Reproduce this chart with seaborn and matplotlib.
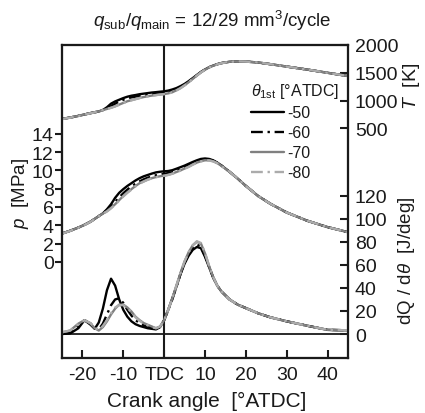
import numpy as np
import pandas as pd
import seaborn as sns
import matplotlib
matplotlib.use('Agg')
import matplotlib.pyplot as plt

sns.set_theme(style="ticks", rc={'text.color': 'k', 'axes.labelcolor': 'k',
                                 'xtick.color': 'k', 'ytick.color': 'k',
                                 'axes.edgecolor': 'k'})
plt.rcParams['font.family'] = ['Liberation Sans', 'DejaVu Sans']
plt.rcParams['mathtext.fontset'] = 'custom'
plt.rcParams['mathtext.rm'] = 'Liberation Sans'
plt.rcParams['mathtext.it'] = 'Liberation Sans:italic'
plt.rcParams['axes.unicode_minus'] = False

# === data ===
# crank angle [deg ATDC]; head part differs per case, tail part is shared
crank_head = [-25, -23, -21, -19.5, -18, -17, -16, -15, -14, -13, -12, -11, -10,
              -9, -8, -7, -6, -5, -4, -3, -2, -1, 0, 1, 2, 3, 4, 5, 6, 7, 8, 9,
              10, 11, 12, 13, 14]
crank_tail = [16, 18, 20, 23, 26, 30, 35, 40, 45]
cases = ['-50', '-60', '-70', '-80']

# gas temperature [K]
T_50 = [670, 695, 725, 750, 775, 790, 805, 830, 880, 945, 985, 1015, 1045, 1070, 1088,
        1100, 1115, 1125, 1135, 1145, 1152, 1160, 1167, 1180, 1200, 1225, 1260, 1300,
        1350, 1405, 1460, 1515, 1560, 1600, 1630, 1655, 1675]
T_60 = [670, 695, 725, 750, 775, 790, 805, 830, 860, 900, 945, 985, 1015, 1040, 1058,
        1072, 1085, 1097, 1108, 1118, 1126, 1133, 1140, 1155, 1175, 1205, 1243, 1288,
        1340, 1397, 1455, 1512, 1558, 1599, 1629, 1654, 1674]
T_70 = [670, 695, 725, 750, 775, 790, 805, 828, 850, 872, 898, 928, 958, 988, 1008,
        1028, 1048, 1064, 1078, 1090, 1100, 1110, 1118, 1130, 1150, 1185, 1225, 1275,
        1330, 1390, 1450, 1508, 1555, 1597, 1628, 1653, 1673]
T_80 = [668, 692, 723, 748, 772, 788, 803, 826, 848, 870, 895, 925, 955, 985, 1005,
        1025, 1045, 1062, 1076, 1088, 1098, 1108, 1116, 1128, 1148, 1183, 1223, 1273,
        1328, 1388, 1448, 1506, 1553, 1595, 1627, 1652, 1672]
T_tail = [1698, 1705, 1702, 1685, 1655, 1612, 1558, 1500, 1442]

# cylinder pressure [MPa]
p_50 = [3.1, 3.4, 3.75, 4.05, 4.4, 4.7, 5.0, 5.3, 5.75, 6.3, 7.0, 7.55, 7.95, 8.3, 8.6,
        8.9, 9.15, 9.35, 9.5, 9.65, 9.78, 9.85, 9.9, 9.93, 10.02, 10.18, 10.35, 10.52,
        10.72, 10.92, 11.1, 11.25, 11.3, 11.25, 11.1, 10.85, 10.55]
p_60 = [3.1, 3.4, 3.75, 4.05, 4.4, 4.7, 5.0, 5.3, 5.65, 6.05, 6.55, 7.05, 7.5, 7.9, 8.25,
        8.55, 8.8, 9.02, 9.2, 9.35, 9.47, 9.56, 9.63, 9.7, 9.8, 9.97, 10.15, 10.35,
        10.55, 10.75, 10.95, 11.12, 11.2, 11.18, 11.05, 10.83, 10.53]
p_70 = [3.1, 3.4, 3.75, 4.05, 4.4, 4.7, 5.0, 5.28, 5.55, 5.9, 6.3, 6.75, 7.2, 7.6, 7.95,
        8.3, 8.6, 8.8, 9.0, 9.15, 9.27, 9.36, 9.43, 9.52, 9.65, 9.82, 10.0, 10.2,
        10.4, 10.65, 10.85, 11.0, 11.1, 11.1, 11.0, 10.8, 10.5]
p_80 = [3.08, 3.38, 3.73, 4.03, 4.38, 4.68, 4.98, 5.25, 5.5, 5.85, 6.25, 6.7, 7.15, 7.55,
        7.9, 8.25, 8.55, 8.78, 8.98, 9.13, 9.25, 9.34, 9.41, 9.5, 9.63, 9.8, 9.98,
        10.18, 10.38, 10.62, 10.82, 10.98, 11.08, 11.08, 10.98, 10.78, 10.48]
p_tail = [9.85, 9.1, 8.3, 7.2, 6.35, 5.4, 4.5, 3.8, 3.25]

# heat release rate [J/deg]
dq_50 = [0, 0.5, 5, 12, 8, 4.5, 10, 22, 38, 48, 42, 30, 21, 15, 11, 8.5, 7, 6, 5, 4.5,
         4, 6, 12, 21, 31, 41, 52, 61, 68, 73, 75.5, 74.5, 67, 58, 49, 42, 37]
dq_60 = [0.5, 1.5, 7, 12, 9, 5, 4, 9, 17, 25, 30, 31, 27, 21, 16, 12, 9.5, 7.5, 6.5, 5.5,
         4.5, 6, 12, 21, 30, 41, 52, 62, 69, 74.5, 77.5, 76, 68, 58.5, 49, 42, 37]
dq_70 = [1.5, 3, 9, 12, 9, 5, 3, 6, 11, 17, 22, 25.5, 25.5, 23, 19.5, 15, 12, 9.5, 8,
         6.5, 5, 6.5, 12, 21, 31, 42, 53, 63, 71, 77, 80, 78.5, 70, 59, 49.5, 42, 37]
dq_80 = [1.5, 3, 8.5, 12, 9.5, 5.5, 3.5, 7, 12, 18, 23, 25, 25, 22.5, 19, 14.5, 11.5, 9,
         7.5, 6, 5, 6.5, 12, 21, 31, 42, 53, 63, 71, 77, 80.5, 79, 70.5, 59, 49.5, 42, 37]
dq_tail = [30, 25.5, 22.5, 18, 14.5, 11, 7.2, 3.6, 3.2]

xtick_pos = [-20, -10, 0, 10, 20, 30, 40]
xtick_labels = ['-20', '-10', 'TDC', '10', '20', '30', '40']
p_ticks = [0, 2, 4, 6, 8, 10, 12, 14]
T_ticks = [500, 1000, 1500, 2000]
dq_ticks = [0, 20, 40, 60, 80, 100, 120]

# === build long table ===
heads = {'-50': (T_50, p_50, dq_50), '-60': (T_60, p_60, dq_60),
         '-70': (T_70, p_70, dq_70), '-80': (T_80, p_80, dq_80)}
frames = []
for c in cases:
    T_h, p_h, q_h = heads[c]
    frames.append(pd.DataFrame({'ca': crank_head + crank_tail,
                                'T': T_h + T_tail,
                                'p': p_h + p_tail,
                                'dq': q_h + dq_tail,
                                'case': c}))
df = pd.concat(frames, ignore_index=True)

palette = {'-50': '#000000', '-60': '#000000', '-70': '#808080', '-80': '#ababab'}
dashes = {'-50': '', '-60': (5, 2, 1, 2), '-70': '', '-80': (5, 2, 1, 2)}

# === plot ===
fig = plt.figure(figsize=(4.25, 4.14), dpi=100)
ax = fig.add_axes([0.1459, 0.1329, 0.6729, 0.756])
axT = ax.twinx()
axQ = ax.twinx()

kw = dict(data=df, x='ca', hue='case', style='case', hue_order=cases,
          style_order=cases, palette=palette, dashes=dashes, linewidth=1.7)
sns.lineplot(y='p', ax=ax, legend=False, **kw)
sns.lineplot(y='T', ax=axT, legend=False, **kw)
sns.lineplot(y='dq', ax=axQ, legend=True, **kw)

ax.axvline(0, color='k', lw=1.5, zorder=1)
axQ.axhline(0, color='k', lw=1.3, zorder=1)

ax.set_xlim(-25, 45)
ax.set_ylim(-10.5, 23.7)
axT.set_ylim(-3630, 2000)
axQ.set_ylim(-20.8, 250.8)

ax.set_xticks(xtick_pos)
ax.set_xticklabels(xtick_labels)
ax.set_yticks(p_ticks)
axT.set_yticks(T_ticks)
axQ.set_yticks(dq_ticks)

ax.tick_params(axis='x', direction='in', length=6, width=1.5, pad=6, labelsize=14)
ax.tick_params(axis='y', direction='out', length=5, width=1.5, pad=1, labelsize=14)
for a in (axT, axQ):
    a.tick_params(axis='y', direction='in', length=6, width=1.5, pad=5, labelsize=14)
for a in (ax, axT, axQ):
    for s in a.spines.values():
        s.set_linewidth(1.5)
    a.set_xlabel('')
    a.set_ylabel('')

ax.text(-0.145, 0.53, r'$p$  [MPa]', transform=ax.transAxes, rotation=90,
        ha='center', va='center', rotation_mode='anchor', fontsize=13.5)
ax.text(1.222, 0.871, r'$T$  [K]', transform=ax.transAxes, rotation=90,
        ha='center', va='center', rotation_mode='anchor', fontsize=14)
ax.text(1.205, 0.313, r'dQ / d$\theta$  [J/deg]', transform=ax.transAxes, rotation=90,
        ha='center', va='center', rotation_mode='anchor', fontsize=13.5)
ax.text(0.507, -0.137, 'Crank angle  [°ATDC]', transform=ax.transAxes,
        ha='center', va='center', fontsize=15)
fig.text(0.5, 1 - 21 / 414, r'$q_{\rm sub}/q_{\rm main}$ = 12/29 mm$^3$/cycle',
         ha='center', va='center', fontsize=13.5)

handles, labels = axQ.get_legend_handles_labels()
axQ.legend(handles, labels, title=r'$\theta_{\rm 1st}$ [°ATDC]', loc='upper right',
           bbox_to_anchor=(0.968, 0.885), frameon=False, fontsize=11.5,
           title_fontsize=11.5, handlelength=2.1, handletextpad=0.2,
           labelspacing=0.32, borderpad=0, borderaxespad=0, alignment='left')

fig.savefig('out.png', dpi=100)
